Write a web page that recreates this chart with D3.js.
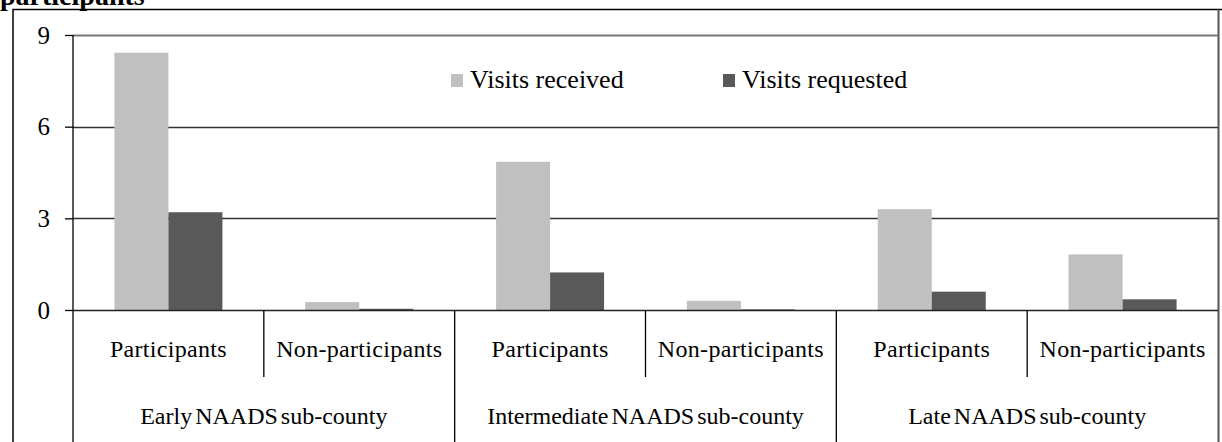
<!DOCTYPE html>
<html lang="en">
<head>
    <meta charset="UTF-8">
    <title>Extension visits</title>
    <style>
        html, body {
            margin: 0;
            padding: 0;
            background-color: #fff;
        }
        svg { display: block; }
        svg text { font-family: "Liberation Serif", "DejaVu Serif", serif; fill: #000; }
    </style>
</head>
<body>
    <div id="graph"></div>
    <script src="https://d3js.org/d3.v7.min.js"></script>
    <script>
        const W = 1222, H = 442;
        const margin = {top: 35, left: 73, right: 4, axis: 310};
        const FONT = '"Liberation Serif", "DejaVu Serif", serif';

        const groups = ["Early NAADS sub-county", "Intermediate NAADS sub-county", "Late NAADS sub-county"];
        const subgroups = ["Participants", "Non-participants"];
        const series = ["Visits received", "Visits requested"];
        const received = [8.42, 0.26, 4.85, 0.30, 3.30, 1.82];
        const requested = [3.20, 0.04, 1.23, 0.02, 0.60, 0.35];
        const yTicks = [0, 3, 6, 9];
        const colours = ["#C0C0C0", "#595959"];

        // category table: one row per group x subgroup
        const rows = [];
        groups.forEach((g, gi) => subgroups.forEach((s, si) => {
            const i = gi * subgroups.length + si;
            rows.push({key: i, group: g, sub: s, values: [received[i], requested[i]]});
        }));

        const svg = d3.select("#graph")
            .append("svg")
            .attr("width", W)
            .attr("height", H)
            .attr("font-family", FONT);

        // CUT-OFF TITLE AND FRAME
        svg.append("text")
            .attr("x", 0)
            .attr("y", 5)
            .style("font-weight", "bold")
            .style("font-size", "28px")
            .text("participants");

        svg.append("path")
            .attr("d", `M13,${H}V9.5H${W}`)
            .attr("fill", "none")
            .attr("stroke", "#000")
            .attr("stroke-width", 1.5);
        svg.append("line")
            .attr("x1", W - 3.5).attr("x2", W - 3.5)
            .attr("y1", 9.5).attr("y2", H)
            .attr("stroke", "#555")
            .attr("stroke-width", 2);

        // SCALES
        const x0 = d3.scaleBand()
            .domain(rows.map(d => d.key))
            .range([margin.left, W - margin.right]);
        const x1 = d3.scaleBand()
            .domain(series)
            .range([0, x0.bandwidth()])
            .paddingOuter(0.767);
        const y = d3.scaleLinear()
            .domain([0, 9])
            .range([margin.axis, margin.top]);

        // GRIDLINES
        svg.append("g")
            .selectAll("line")
            .data(yTicks.filter(t => t > 0))
            .enter()
            .append("line")
            .attr("x1", margin.left)
            .attr("x2", W - margin.right)
            .attr("y1", d => Math.round(y(d)) + 0.5)
            .attr("y2", d => Math.round(y(d)) + 0.5)
            .attr("stroke", d => d === 9 ? "#777" : "#333")
            .attr("stroke-width", d => d === 9 ? 2 : 1.3);

        // BARS
        const bar = svg.append("g")
            .selectAll("g")
            .data(rows)
            .enter()
            .append("g")
            .attr("transform", d => `translate(${x0(d.key)},0)`);
        bar.selectAll("rect")
            .data(d => d.values.map((v, i) => ({s: series[i], v: v, c: colours[i]})))
            .enter()
            .append("rect")
            .attr("x", d => x1(d.s))
            .attr("width", x1.bandwidth())
            .attr("y", d => y(d.v))
            .attr("height", d => y(0) - y(d.v))
            .attr("fill", d => d.c);

        // Y AXIS
        const yAxis = d3.axisLeft(y)
            .tickValues(yTicks)
            .tickSize(8)
            .tickPadding(15)
            .tickFormat(d3.format("d"));
        const gy = svg.append("g")
            .attr("transform", `translate(${margin.left},0)`)
            .call(yAxis)
            .attr("font-family", FONT)
            .attr("font-size", 25);
        gy.select(".domain").remove();
        gy.selectAll(".tick line").attr("stroke", "#000").attr("stroke-width", 1.3);

        svg.append("line")
            .attr("x1", margin.left).attr("x2", margin.left)
            .attr("y1", margin.top).attr("y2", H)
            .attr("stroke", "#000").attr("stroke-width", 1.3);

        // X AXIS LINE
        svg.append("line")
            .attr("x1", margin.left).attr("x2", W - margin.right)
            .attr("y1", y(0) + 0.5).attr("y2", y(0) + 0.5)
            .attr("stroke", "#222").attr("stroke-width", 1.6);

        // CATEGORY SEPARATORS
        svg.append("g")
            .selectAll("line")
            .data(rows.slice(1))
            .enter()
            .append("line")
            .attr("x1", d => x0(d.key))
            .attr("x2", d => x0(d.key))
            .attr("y1", y(0))
            .attr("y2", d => d.key % subgroups.length === 0 ? H : 377)
            .attr("stroke", "#000")
            .attr("stroke-width", 1.3);

        // CATEGORY LABELS
        svg.append("g")
            .selectAll("text")
            .data(rows)
            .enter()
            .append("text")
            .attr("x", d => x0(d.key) + x0.bandwidth() / 2)
            .attr("y", 357)
            .attr("text-anchor", "middle")
            .style("font-size", "24px")
            .style("letter-spacing", "0.3px")
            .text(d => d.sub);

        const groupWidth = x0.bandwidth() * subgroups.length;
        svg.append("g")
            .selectAll("text")
            .data(groups)
            .enter()
            .append("text")
            .attr("x", (d, i) => margin.left + groupWidth * (i + 0.5))
            .attr("y", 424)
            .attr("text-anchor", "middle")
            .style("font-size", "24px")
            .style("word-spacing", "-3px")
            .text(d => d);

        // LEGEND
        const legendX = [451, 723];
        const legend = svg.append("g")
            .selectAll("g")
            .data(series)
            .enter()
            .append("g")
            .attr("transform", (d, i) => `translate(${legendX[i]},74)`);
        legend.append("rect")
            .attr("width", 12)
            .attr("height", 13)
            .attr("fill", (d, i) => colours[i]);
        legend.append("text")
            .attr("x", 19)
            .attr("y", 14)
            .style("font-size", "26px")
            .text(d => d);
    </script>
</body>
</html>
